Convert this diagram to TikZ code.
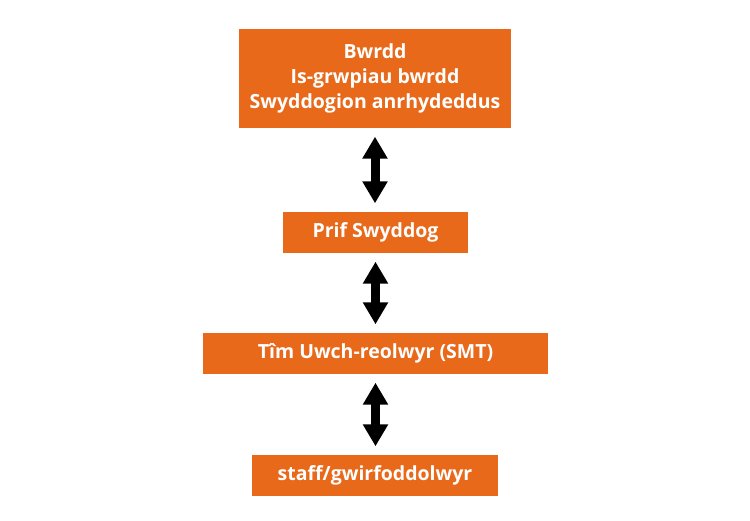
\documentclass[tikz,border=0pt]{standalone}
\usepackage{fontspec}
\setmainfont{Open Sans}[BoldFont={* Bold}]
\usetikzlibrary{arrows.meta}
\definecolor{boxorange}{HTML}{E8691A}
\tikzset{
  orgbox/.style={fill=boxorange, draw=none, text=white, font=\fontsize{19.5}{25}\selectfont\bfseries, align=center, inner sep=0pt},
  link/.style={line width=9pt, {Triangle[width=24pt,length=22pt]}-{Triangle[width=24pt,length=22pt]}, shorten <=8.5pt, shorten >=8.5pt}
}
\begin{document}
\begin{tikzpicture}[x=1pt,y=1pt]
\useasboundingbox (0,0) rectangle (750,520);
\node[orgbox, minimum width=272pt, minimum height=99pt] (b1) at (375,441.5) {Bwrdd\\Is-grwpiau bwrdd\\Swyddogion anrhydeddus};
\node[orgbox, minimum width=185pt, minimum height=41pt] (b2) at (375.5,287.5) {Prif Swyddog};
\node[orgbox, minimum width=345pt, minimum height=41pt] (b3) at (375.5,166.5) {Tîm Uwch-reolwyr (SMT)};
\node[orgbox, minimum width=246pt, minimum height=41pt] (b4) at (375,44.5) {staff/gwirfoddolwyr};
\draw[link] (b1.south) -- (b1.south |- b2.north);
\draw[link] (b2.south) -- (b2.south |- b3.north);
\draw[link] (b3.south) -- (b3.south |- b4.north);
\end{tikzpicture}
\end{document}
